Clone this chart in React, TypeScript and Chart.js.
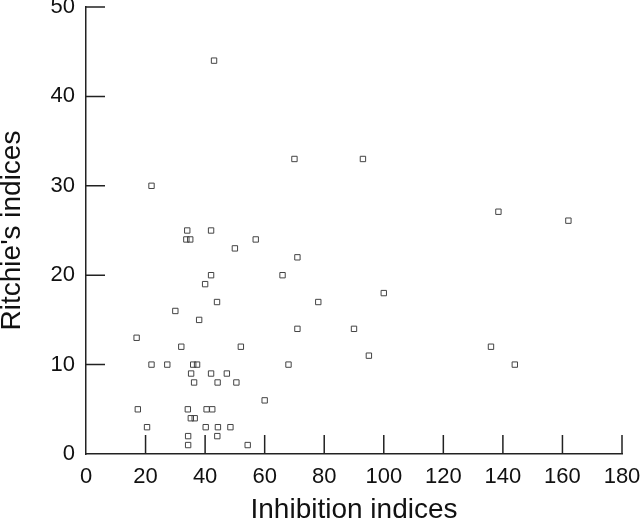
import React, { useEffect, useRef } from "react";
import { Chart, registerables } from "chart.js";

Chart.register(...registerables);

const inhibition: number[] = [
  43, 22, 70, 93, 138.5, 162,
  34, 42, 33.7, 35, 57, 50, 71, 42, 66, 40, 44, 78, 100, 30, 38, 71, 90, 17,
  32, 52, 136, 22, 27.3, 36, 37.3, 68, 144, 35.3, 42, 47.3, 95, 36.3, 44.2, 50.5,
  60, 17.4, 34.2, 40.5, 42.4, 35.2, 36.5, 20.5, 40.2, 44.3, 48.5, 34.3, 44.1, 34.3, 54.3,
];
const ritchie: number[] = [
  44, 30, 33, 33, 27.1, 26.1,
  25, 25, 24, 24, 24, 23, 22, 20, 20, 19, 17, 17, 18, 16, 15, 14, 14, 13,
  12, 12, 12, 10, 10, 10, 10, 10, 10, 9, 9, 9, 11, 8, 8, 8,
  6, 5, 5, 5, 5, 4, 4, 3, 3, 3, 3, 2, 2, 1, 1,
];

const xTicks = [0, 20, 40, 60, 80, 100, 120, 140, 160, 180];
const yTicks = [0, 10, 20, 30, 40, 50];
const xTitle = "Inhibition indices";
const yTitle = "Ritchie's indices";

const FONT = "'Liberation Sans', Arial, Helvetica, sans-serif";
const INK = "#222";

const innerTicks = {
  id: "innerTicks",
  afterDraw(chart: any) {
    const { ctx, chartArea } = chart;
    const xs = chart.scales.x;
    const ys = chart.scales.y;
    const len = 19;
    ctx.save();
    ctx.strokeStyle = INK;
    ctx.lineWidth = 1.5;
    ctx.beginPath();
    xTicks.forEach((v) => {
      if (v === 0) return;
      const px = xs.getPixelForValue(v);
      ctx.moveTo(px, chartArea.bottom);
      ctx.lineTo(px, chartArea.bottom - len);
    });
    yTicks.forEach((v) => {
      if (v === 0) return;
      const py = ys.getPixelForValue(v);
      ctx.moveTo(chartArea.left, py);
      ctx.lineTo(chartArea.left + len, py);
    });
    ctx.stroke();
    ctx.restore();
  },
};

export default function App() {
  const ref = useRef<HTMLCanvasElement | null>(null);
  useEffect(() => {
    if (!ref.current) return;
    const data = inhibition.map((x, i) => ({ x, y: ritchie[i] }));
    const chart = new Chart(ref.current, {
      type: "scatter",
      data: {
        datasets: [
          {
            data,
            pointStyle: "rect",
            radius: 3.8,
            borderColor: "#444",
            backgroundColor: "rgba(255,255,255,0)",
            borderWidth: 1,
          },
        ],
      },
      options: {
        animation: false,
        responsive: true,
        maintainAspectRatio: false,
        layout: { padding: { top: 7, right: 18, left: 0, bottom: 0 } },
        plugins: { legend: { display: false }, tooltip: { enabled: false } },
        scales: {
          x: {
            type: "linear",
            min: 0,
            max: 180,
            afterBuildTicks: (s: any) => {
              s.ticks = xTicks.map((v) => ({ value: v }));
            },
            afterFit: (s: any) => {
              s.height = 67;
              s.paddingLeft = 0;
              s.paddingRight = 0;
            },
            grid: { display: true, drawOnChartArea: false, drawTicks: false, color: "rgba(0,0,0,0)" },
            border: { display: true, color: INK, width: 1.5 },
            ticks: {
              padding: 10,
              color: "#111",
              font: { family: FONT, size: 22 },
              maxRotation: 0,
              autoSkip: false,
            },
            title: {
              display: true,
              text: xTitle,
              color: "#111",
              font: { family: FONT, size: 28, lineHeight: 0.79 },
              padding: { top: 0, bottom: 0 },
            },
          },
          y: {
            type: "linear",
            min: 0,
            max: 50,
            afterBuildTicks: (s: any) => {
              s.ticks = yTicks.map((v) => ({ value: v }));
            },
            afterFit: (s: any) => {
              s.width = 86;
              s.paddingTop = 0;
              s.paddingBottom = 0;
            },
            grid: { display: true, drawOnChartArea: false, drawTicks: false, color: "rgba(0,0,0,0)" },
            border: { display: true, color: INK, width: 1.5 },
            ticks: {
              padding: 11,
              color: "#111",
              font: { family: FONT, size: 22 },
              autoSkip: false,
            },
            title: {
              display: true,
              text: yTitle,
              color: "#111",
              font: { family: FONT, size: 28, lineHeight: 0.79 },
              padding: { top: 1, bottom: 0 },
            },
          },
        },
      },
      plugins: [innerTicks],
    });
    return () => chart.destroy();
  }, []);
  return (
    <div style={{ position: "absolute", left: 0, top: 0, width: 640, height: 521, background: "#fff" }}>
      <canvas ref={ref} />
    </div>
  );
}
